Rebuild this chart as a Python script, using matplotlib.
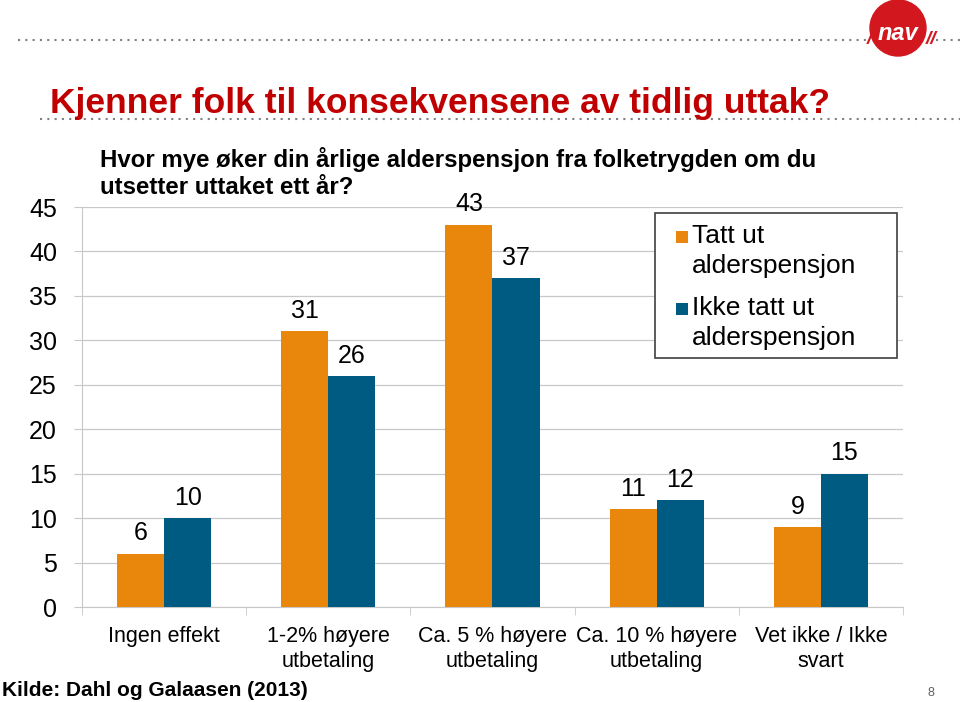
import matplotlib.pyplot as plt
import numpy as np
from matplotlib.patches import Circle, Rectangle

plt.rcParams["font.family"] = ["Liberation Sans", "DejaVu Sans"]

categories = ["Ingen effekt", "1-2% høyere\nutbetaling", "Ca. 5 % høyere\nutbetaling",
              "Ca. 10 % høyere\nutbetaling", "Vet ikke / Ikke\nsvart"]
tatt_ut = [6, 31, 43, 11, 9]
ikke_tatt_ut = [10, 26, 37, 12, 15]
series_names = ["Tatt ut\nalderspensjon", "Ikke tatt ut\nalderspensjon"]
yticks = [0, 5, 10, 15, 20, 25, 30, 35, 40, 45]
subtitle = ["Hvor mye øker din årlige alderspensjon fra folketrygden om du",
            "utsetter uttaket ett år?"]

ORANGE = "#E8870B"
BLUE = "#005B82"
RED = "#C00000"
GRIDC = "#C8C8C8"

fig = plt.figure(figsize=(9.6, 7.02), dpi=100)
ax = fig.add_axes([0.0854, 0.1353, 0.8552, 0.5698])

x = np.arange(len(categories))
w = 0.287
b1 = ax.bar(x - w / 2, tatt_ut, w, color=ORANGE, zorder=3)
b2 = ax.bar(x + w / 2, ikke_tatt_ut, w, color=BLUE, zorder=3)
for bars in (b1, b2):
    ax.bar_label(bars, padding=6, fontsize=18)

ax.set_xlim(-0.5, len(categories) - 0.5)
ax.set_ylim(0, 45)
ax.set_yticks(yticks)
ax.tick_params(axis="y", labelsize=18, length=6, color=GRIDC, pad=12)
ax.yaxis.grid(True, color=GRIDC, linewidth=0.9, zorder=0)
ax.set_xticks(x)
ax.set_xticklabels(categories, fontsize=15.5, linespacing=1.25)
ax.tick_params(axis="x", length=0, pad=14)
# category boundary ticks
ax.set_xticks(np.arange(-0.5, len(categories)), minor=True)
ax.tick_params(axis="x", which="minor", length=6, color=GRIDC)
for side in ("top", "right"):
    ax.spines[side].set_visible(False)
for side in ("left", "bottom"):
    ax.spines[side].set_color(GRIDC)

# legend, drawn by hand so the square sits on the first text line
lx0, lx1, ly0, ly1 = 0.698, 0.9927, 0.6225, 0.985
ax.add_patch(Rectangle((lx0, ly0), lx1 - lx0, ly1 - ly0, transform=ax.transAxes,
                       facecolor="white", edgecolor="#404040", linewidth=1.2, zorder=5))
entry_y = [0.925, 0.745]
for name, col, ey in zip(series_names, [ORANGE, BLUE], entry_y):
    ax.add_patch(Rectangle((0.7233, ey - 0.0155), 0.0146, 0.031, transform=ax.transAxes,
                           facecolor=col, edgecolor="none", zorder=6))
    ax.text(0.743, ey + 0.032, name, transform=ax.transAxes, fontsize=19, va="top",
            ha="left", linespacing=1.3, zorder=6)

# header
fig.text(50 / 960, 1 - 113 / 702, "Kjenner folk til konsekvensene av tidlig uttak?",
         fontsize=25.5, fontweight="bold", color=RED, va="baseline")
for line, yy in zip(subtitle, [160, 187]):
    fig.text(100 / 960, 1 - yy / 702, line, fontsize=17.3, fontweight="bold", va="center")
dots = dict(color="#808080", linestyle=(0, (1, 2.5)), linewidth=1.5)
fig.add_artist(plt.Line2D([18 / 960, 866 / 960], [1 - 40 / 702] * 2, **dots))
fig.add_artist(plt.Line2D([40 / 960, 1.0], [1 - 119 / 702] * 2, **dots))
fig.add_artist(plt.Line2D([936 / 960, 1.0], [1 - 40 / 702] * 2, **dots))

# NAV logo
logo = fig.add_axes([858 / 960, 1 - 60 / 702, 80 / 960, 60 / 702])
logo.set_xlim(0, 80)
logo.set_ylim(0, 60)
logo.set_aspect("equal")
logo.axis("off")
logo.add_patch(Circle((40, 32), 28, color="#D2171E"))
logo.text(40, 27, "nav", color="white", fontsize=17, fontweight="bold", ha="center",
          va="center", style="italic")
logo.text(11, 21, "/", color="#D2171E", fontsize=14, fontweight="bold", ha="center",
          va="center", style="italic")
logo.text(73, 21, "//", color="#D2171E", fontsize=14, fontweight="bold", ha="center",
          va="center", style="italic")

fig.text(2 / 960, 1 - 690 / 702, "Kilde: Dahl og Galaasen (2013)", fontsize=15,
         fontweight="bold", va="center")
fig.text(928 / 960, 1 - 693 / 702, "8", fontsize=9, color="#606060", va="center")

fig.savefig("out.png", dpi=100)
